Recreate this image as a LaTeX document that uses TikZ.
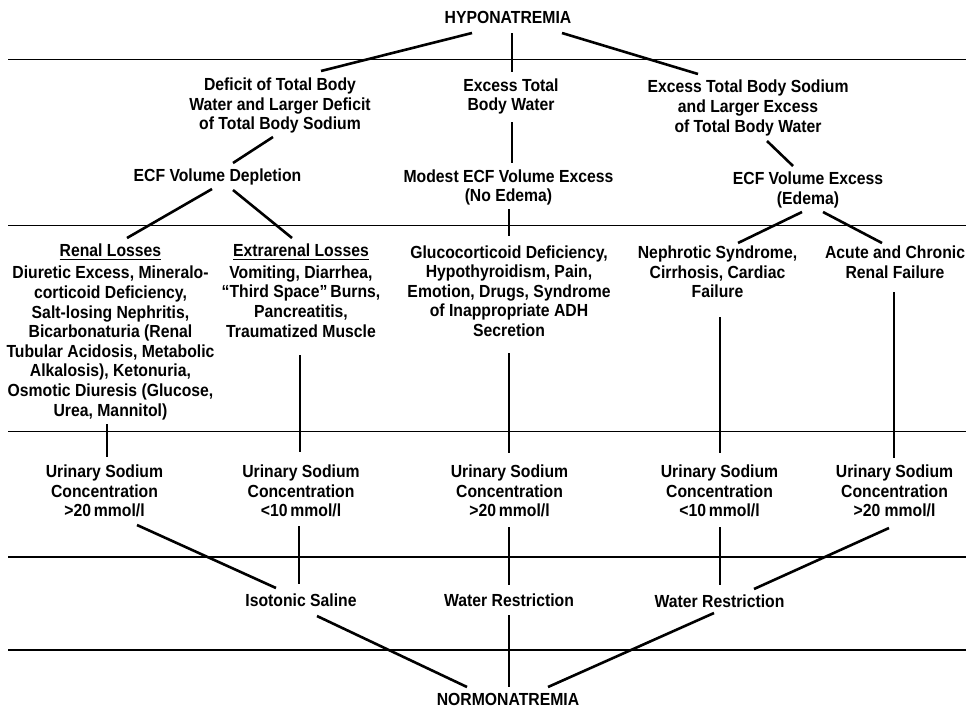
\documentclass[tikz,border=0pt]{standalone}
\usepackage{fontspec}
\setmainfont{Liberation Sans}[FakeStretch=0.9]
\newcommand\ulx[1]{\setbox0\hbox{#1}\leavevmode\rlap{\rule[-3.5pt]{\wd0}{1.3pt}}\box0}
\begin{document}
\begin{tikzpicture}[x=1pt,y=-1pt,
  txt/.style={align=center,inner sep=0pt,font=\fontsize{17.5}{19.6}\selectfont\bfseries},
  conn/.style={line width=2.6pt},
  rulel/.style={line width=1.8pt}]
\useasboundingbox (0,0) rectangle (973,710);

% horizontal rules
\draw[rulel] (8,59.5) -- (966,59.5);
\draw[rulel] (8,225.5) -- (966,225.5);
\draw[rulel] (8,431.5) -- (966,431.5);
\draw[rulel] (8,557) -- (966,557);
\draw[rulel] (8,650) -- (966,650);

% nodes
\node[txt] (hypo) at (508,17) {HYPONATREMIA};
\node[txt] (def) at (280,105.5) {Deficit of Total Body\\Water and Larger Deficit\\of Total Body Sodium};
\node[txt] (etbw) at (511,96.5) {Excess Total\\Body Water};
\node[txt] (etbs) at (748,108) {Excess Total Body Sodium\\and Larger Excess\\of Total Body Water};
\node[txt] (ecfdep) at (217.5,176.5) {ECF Volume Depletion};
\node[txt] (modest) at (508.5,187.5) {Modest ECF Volume Excess\\(No Edema)};
\node[txt] (ecfexc) at (808,190) {ECF Volume Excess\\(Edema)};
\node[txt] (renal) at (110.5,332) {\ulx{Renal Losses}\\[2.4pt]
  Diuretic Excess, Mineralo-\\corticoid Deficiency,\\Salt-losing Nephritis,\\Bicarbonaturia (Renal\\Tubular Acidosis, Metabolic\\Alkalosis), Ketonuria,\\Osmotic Diuresis (Glucose,\\Urea, Mannitol)};
\node[txt] (extra) at (301,290.5) {\ulx{Extrarenal Losses}\\[2.4pt]
  Vomiting, Diarrhea,\\``Third Space''\,Burns,\\Pancreatitis,\\Traumatized Muscle};
\node[txt] (gluco) at (509,291) {Glucocorticoid Deficiency,\\Hypothyroidism, Pain,\\Emotion, Drugs, Syndrome\\of Inappropriate ADH\\Secretion};
\node[txt] (neph) at (717.5,272) {Nephrotic Syndrome,\\Cirrhosis, Cardiac\\Failure};
\node[txt] (acute) at (895,262) {Acute and Chronic\\Renal Failure};
\node[txt] (u1) at (104.5,491) {Urinary Sodium\\Concentration\\>20\,mmol/l};
\node[txt] (u2) at (301,491) {Urinary Sodium\\Concentration\\<10\,mmol/l};
\node[txt] (u3) at (509.5,491) {Urinary Sodium\\Concentration\\>20\,mmol/l};
\node[txt] (u4) at (719.5,491) {Urinary Sodium\\Concentration\\<10\,mmol/l};
\node[txt] (u5) at (894.5,491) {Urinary Sodium\\Concentration\\>20 mmol/l};
\node[txt] (iso) at (301,600) {Isotonic Saline};
\node[txt] (w1) at (509,600) {Water Restriction};
\node[txt] (w2) at (719.5,601) {Water Restriction};
\node[txt] (normo) at (508,699) {NORMONATREMIA};

% connectors
\draw[conn] ([shift={(-36,16)}]hypo.center) -- ([shift={(41,-34.5)}]def.center);
\draw[conn] ([shift={(4,16)}]hypo.center) -- ([shift={(1,-24.5)}]etbw.center);
\draw[conn] ([shift={(54,16)}]hypo.center) -- ([shift={(-50,-34)}]etbs.center);
\draw[conn] ([shift={(-7,31.5)}]def.center) -- ([shift={(15.5,-13.5)}]ecfdep.center);
\draw[conn] ([shift={(1,25.5)}]etbw.center) -- ([shift={(3.5,-24.5)}]modest.center);
\draw[conn] ([shift={(19,33)}]etbs.center) -- ([shift={(-15,-24)}]ecfexc.center);
\draw[conn] ([shift={(-5.5,12.5)}]ecfdep.center) -- ([shift={(16.5,-94)}]renal.center);
\draw[conn] ([shift={(15.5,13.5)}]ecfdep.center) -- ([shift={(-9,-52.5)}]extra.center);
\draw[conn] ([shift={(0.5,21.5)}]modest.center) -- ([shift={(0,-55)}]gluco.center);
\draw[conn] ([shift={(-6,22)}]ecfexc.center) -- ([shift={(20.5,-29)}]neph.center);
\draw[conn] ([shift={(15,22)}]ecfexc.center) -- ([shift={(-13,-19)}]acute.center);
\draw[conn] ([shift={(-3.5,92)}]renal.center) -- ([shift={(2.5,-34)}]u1.center);
\draw[conn] ([shift={(-1,64.5)}]extra.center) -- ([shift={(-1,-39)}]u2.center);
\draw[conn] ([shift={(0,62)}]gluco.center) -- ([shift={(-0.5,-38)}]u3.center);
\draw[conn] ([shift={(2.5,45)}]neph.center) -- ([shift={(0.5,-38)}]u4.center);
\draw[conn] ([shift={(-1,30)}]acute.center) -- ([shift={(-0.5,-33)}]u5.center);
\draw[conn] ([shift={(32.5,34)}]u1.center) -- ([shift={(-25,-12)}]iso.center);
\draw[conn] ([shift={(-2,35)}]u2.center) -- ([shift={(-2,-16)}]iso.center);
\draw[conn] ([shift={(-0.5,36)}]u3.center) -- ([shift={(0,-15)}]w1.center);
\draw[conn] ([shift={(0.5,36)}]u4.center) -- ([shift={(0.5,-16)}]w2.center);
\draw[conn] ([shift={(-5.5,37)}]u5.center) -- ([shift={(34.5,-12)}]w2.center);
\draw[conn] ([shift={(16,16)}]iso.center) -- ([shift={(-41,-12)}]normo.center);
\draw[conn] ([shift={(0,15)}]w1.center) -- ([shift={(1,-12)}]normo.center);
\draw[conn] ([shift={(-5.5,12)}]w2.center) -- ([shift={(40,-12)}]normo.center);
\end{tikzpicture}
\end{document}
